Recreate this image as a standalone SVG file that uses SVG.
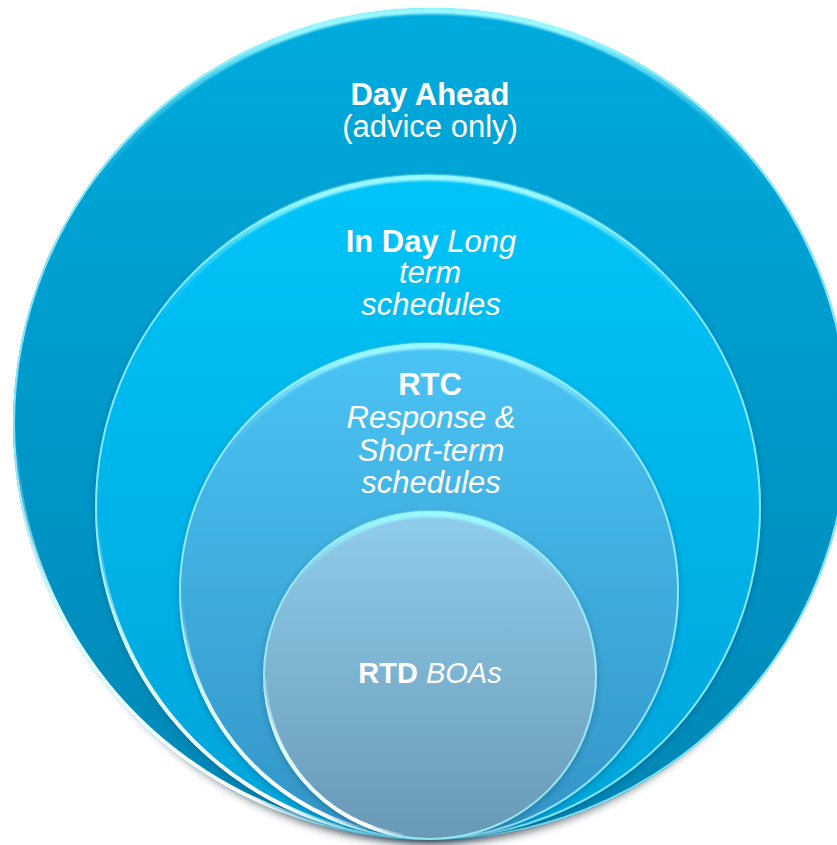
<svg xmlns="http://www.w3.org/2000/svg" width="837" height="845" viewBox="0 0 837 845">
  <defs>
    <linearGradient id="g1" x1="0" y1="0" x2="0" y2="1">
      <stop offset="0" stop-color="#00ABDE"/>
      <stop offset="1" stop-color="#0086B4"/>
    </linearGradient>
    <linearGradient id="g2" x1="0" y1="0" x2="0" y2="1">
      <stop offset="0" stop-color="#00C4F8"/>
      <stop offset="1" stop-color="#00A4DA"/>
    </linearGradient>
    <linearGradient id="g3" x1="0" y1="0" x2="0" y2="1">
      <stop offset="0" stop-color="#4AC4F4"/>
      <stop offset="1" stop-color="#3394C6"/>
    </linearGradient>
    <linearGradient id="g4" x1="0" y1="0" x2="0" y2="1">
      <stop offset="0" stop-color="#90CDEC"/>
      <stop offset="1" stop-color="#6899B6"/>
    </linearGradient>
    <linearGradient id="hiGrad" x1="0" y1="0" x2="1" y2="1">
      <stop offset="0" stop-color="#FFFFFF" stop-opacity="0"/>
      <stop offset="0.3" stop-color="#DFFFFF" stop-opacity="1"/>
      <stop offset="0.85" stop-color="#FFFFFF" stop-opacity="1"/>
      <stop offset="1" stop-color="#FFFFFF" stop-opacity="0.2"/>
    </linearGradient>
    <linearGradient id="topGrad" x1="0" y1="0" x2="1" y2="0">
      <stop offset="0" stop-color="#8FF6FF" stop-opacity="0"/>
      <stop offset="0.3" stop-color="#9AF8FF" stop-opacity="1"/>
      <stop offset="0.7" stop-color="#9AF8FF" stop-opacity="1"/>
      <stop offset="1" stop-color="#8FF6FF" stop-opacity="0"/>
    </linearGradient>
    <filter id="shadow" x="-10%" y="-10%" width="120%" height="120%">
      <feDropShadow dx="0" dy="2" stdDeviation="3" flood-color="#003048" flood-opacity="0.3"/>
    </filter>
    <filter id="blur1" x="-5%" y="-5%" width="110%" height="110%">
      <feGaussianBlur stdDeviation="0.6"/>
    </filter>
    <filter id="blur2" x="-10%" y="-30%" width="120%" height="160%">
      <feGaussianBlur stdDeviation="1.3"/>
    </filter>
    <filter id="blur5" x="-20%" y="-20%" width="140%" height="140%">
      <feGaussianBlur stdDeviation="4"/>
    </filter>
  </defs>
  <style>
    .rim { fill: none; stroke: #9DF2FF; stroke-width: 2; opacity: 0.85; }
    .hi { fill: none; stroke: url(#hiGrad); stroke-width: 4; stroke-linecap: round; }
    .top { fill: none; stroke: url(#topGrad); stroke-width: 6; }
    .txt { font-family: "Liberation Sans", Arial, sans-serif; font-size: 31px; fill: #FFFFFF; text-anchor: middle; }
    .b { font-weight: bold; }
    .i { font-style: italic; }
  </style>

  <!-- ground shadow under the outer circle -->
  <ellipse cx="431" cy="436" rx="402" ry="408" fill="#1A2A33" opacity="0.6" filter="url(#blur5)"/>

  <g id="node-day-ahead">
    <ellipse cx="431" cy="424" rx="418" ry="416" fill="url(#g1)"/>
    <ellipse class="rim" cx="431" cy="424" rx="417" ry="415" filter="url(#blur1)"/>
    <path class="top" d="M 91 187.1 A 415 413 0 0 1 771 187.1" filter="url(#blur2)"/>
    <path class="hi" d="M 15.3 438.4 A 416 414 0 0 0 323.3 823.9" filter="url(#blur1)"/>
    <text class="txt b" x="430" y="105">Day Ahead</text>
    <text class="txt" x="430" y="137">(advice only)</text>
  </g>

  <g id="node-in-day">
    <ellipse cx="428" cy="507.5" rx="333" ry="332.5" fill="url(#g2)" filter="url(#shadow)"/>
    <ellipse class="rim" cx="428" cy="507.5" rx="332" ry="331.5" filter="url(#blur1)"/>
    <path class="top" d="M 157.7 318.2 A 330 330 0 0 1 698.3 318.2" filter="url(#blur2)"/>
    <path class="hi" d="M 97.2 519.1 A 331 331 0 0 0 342.3 827.2" filter="url(#blur1)"/>
    <text class="txt" x="431" y="252"><tspan class="b">In Day</tspan> <tspan class="i">Long</tspan></text>
    <text class="txt i" x="430" y="283">term</text>
    <text class="txt i" x="431" y="315">schedules</text>
  </g>

  <g id="node-rtc">
    <ellipse cx="429" cy="591.5" rx="250" ry="248.5" fill="url(#g3)" filter="url(#shadow)"/>
    <ellipse class="rim" cx="429" cy="591.5" rx="249" ry="247.5" filter="url(#blur1)" stroke="#C8F8FF"/>
    <path class="top" d="M 226.7 450.7 A 247 245.5 0 0 1 631.3 450.7" filter="url(#blur2)"/>
    <path class="hi" d="M 181.2 600.1 A 248 246.5 0 0 0 364.8 829.6" filter="url(#blur1)"/>
    <text class="txt b" x="430" y="395">RTC</text>
    <text class="txt i" x="431" y="428">Response &amp;</text>
    <text class="txt i" x="431" y="461">Short-term</text>
    <text class="txt i" x="431" y="493">schedules</text>
  </g>

  <g id="node-rtd">
    <ellipse cx="430" cy="675.5" rx="167" ry="164.5" fill="url(#g4)" filter="url(#shadow)"/>
    <ellipse class="rim" cx="430" cy="675.5" rx="166" ry="163.5" filter="url(#blur1)" stroke="#E4FAFF"/>
    <path class="top" d="M 295.7 582.9 A 164 161.5 0 0 1 564.3 582.9" filter="url(#blur2)"/>
    <path class="hi" d="M 265 675.5 A 165 162.5 0 0 0 401.4 835.5" filter="url(#blur1)"/>
    <text class="txt" x="430" y="683" style="font-size:29px"><tspan class="b">RTD</tspan> <tspan class="i">BOAs</tspan></text>
  </g>

  <g id="connectors"/>
</svg>
